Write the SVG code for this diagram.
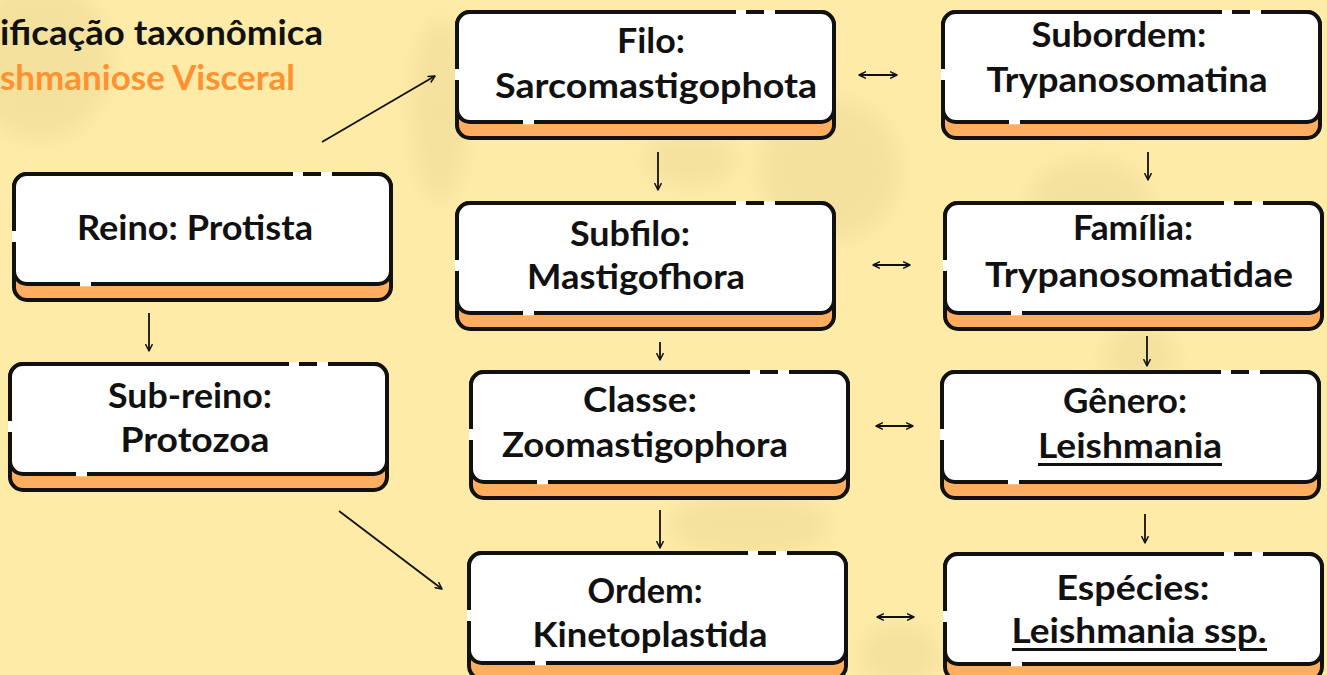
<svg xmlns="http://www.w3.org/2000/svg" xmlns:xlink="http://www.w3.org/1999/xlink" width="1327" height="675" viewBox="0 0 1327 675">
<style>
.t{font-family:Lato,"Open Sans","Liberation Sans",sans-serif;font-weight:700;font-size:35px;fill:#111;text-anchor:middle}
.ttl{font-family:Lato,"Open Sans","Liberation Sans",sans-serif;font-weight:700;font-size:34px}
.ln{stroke:#111;stroke-width:1.8;fill:none;marker-end:url(#ah)}
.dl{stroke:#111;stroke-width:1.8;fill:none;marker-end:url(#ah);marker-start:url(#ah)}
.ul{fill:#111}
.blob{fill:#F5E19E}
</style>
<defs>
<filter id="blur" x="-50%" y="-50%" width="200%" height="200%"><feGaussianBlur stdDeviation="10"/></filter>
<marker id="ah" viewBox="0 0 10 10" refX="9" refY="5" markerWidth="8" markerHeight="8" markerUnits="userSpaceOnUse" orient="auto-start-reverse">
<path d="M1,1 L9,5 L1,9" fill="none" stroke="#111" stroke-width="1.8" stroke-linecap="round" stroke-linejoin="round"/>
</marker>
<g id="box">
<rect x="2" y="2" width="377" height="126" rx="13" fill="#FFAD5E" stroke="#111" stroke-width="4"/>
<rect x="2" y="2" width="377" height="110" rx="13" fill="#fff" stroke="#111" stroke-width="4"/>
<rect x="281" y="0" width="10" height="4.5" fill="#fff"/>
<rect x="309" y="0" width="11" height="4.5" fill="#fff"/>
<rect x="0" y="59" width="4.5" height="11" fill="#fff"/>
<rect x="68" y="109.8" width="11" height="4.5" fill="#fff"/>
</g>
</defs>
<rect width="1327" height="675" fill="#FEEBA7"/>
<g id="background" filter="url(#blur)">
<ellipse class="blob" cx="40" cy="60" rx="70" ry="80"/>
<ellipse class="blob" cx="440" cy="110" rx="28" ry="90"/>
<ellipse class="blob" cx="690" cy="160" rx="45" ry="25"/>
<ellipse class="blob" cx="830" cy="170" rx="70" ry="70"/>
<ellipse class="blob" cx="1090" cy="200" rx="60" ry="40"/>
<ellipse class="blob" cx="1140" cy="355" rx="35" ry="30"/>
<ellipse class="blob" cx="750" cy="525" rx="80" ry="30"/>
<ellipse class="blob" cx="900" cy="655" rx="40" ry="30"/>
</g>
<g id="title">
<text class="ttl" x="0" y="45" fill="#111" textLength="323" lengthAdjust="spacingAndGlyphs">ificação taxonômica</text>
<text class="ttl" x="0" y="90" fill="#FF9130" textLength="295" lengthAdjust="spacingAndGlyphs">shmaniose Visceral</text>
</g>
<g id="connectors">
<line class="ln" x1="322" y1="142" x2="435" y2="76"/>
<line class="ln" x1="149" y1="313" x2="149" y2="351"/>
<line class="ln" x1="339" y1="511" x2="442" y2="589"/>
<line class="ln" x1="658" y1="152" x2="658" y2="190"/>
<line class="ln" x1="660" y1="342" x2="660" y2="360"/>
<line class="ln" x1="660" y1="510" x2="660" y2="548"/>
<line class="ln" x1="1148" y1="152" x2="1148" y2="180"/>
<line class="ln" x1="1147" y1="336" x2="1147" y2="366"/>
<line class="ln" x1="1145" y1="514" x2="1145" y2="543"/>
<line class="dl" x1="859" y1="75" x2="897" y2="75"/>
<line class="dl" x1="873" y1="265" x2="910" y2="265"/>
<line class="dl" x1="876" y1="426" x2="913" y2="426"/>
<line class="dl" x1="877" y1="617" x2="914" y2="617"/>
</g>
<g id="reino">
<use xlink:href="#box" x="12" y="172"/>
<text class="t" x="195" y="240" textLength="236" lengthAdjust="spacingAndGlyphs">Reino: Protista</text>
</g>
<g id="subreino">
<use xlink:href="#box" x="8" y="362"/>
<text class="t" x="190" y="408" textLength="164" lengthAdjust="spacingAndGlyphs">Sub-reino:</text>
<text class="t" x="195" y="452" textLength="149" lengthAdjust="spacingAndGlyphs">Protozoa</text>
</g>
<g id="filo">
<use xlink:href="#box" x="455" y="10"/>
<text class="t" x="651" y="53" textLength="68" lengthAdjust="spacingAndGlyphs">Filo:</text>
<text class="t" x="656" y="98" textLength="322" lengthAdjust="spacingAndGlyphs">Sarcomastigophota</text>
</g>
<g id="subordem">
<use xlink:href="#box" x="941" y="10"/>
<text class="t" x="1119" y="47" textLength="175" lengthAdjust="spacingAndGlyphs">Subordem:</text>
<text class="t" x="1127" y="92" textLength="281" lengthAdjust="spacingAndGlyphs">Trypanosomatina</text>
</g>
<g id="subfilo">
<use xlink:href="#box" x="455" y="201"/>
<text class="t" x="630" y="246" textLength="120" lengthAdjust="spacingAndGlyphs">Subfilo:</text>
<text class="t" x="636" y="289" textLength="218" lengthAdjust="spacingAndGlyphs">Mastigofhora</text>
</g>
<g id="familia">
<use xlink:href="#box" x="943" y="201"/>
<text class="t" x="1133" y="240" textLength="120" lengthAdjust="spacingAndGlyphs">Família:</text>
<text class="t" x="1139" y="287" textLength="308" lengthAdjust="spacingAndGlyphs">Trypanosomatidae</text>
</g>
<g id="classe">
<use xlink:href="#box" x="469" y="370"/>
<text class="t" x="640" y="412" textLength="114" lengthAdjust="spacingAndGlyphs">Classe:</text>
<text class="t" x="645" y="457" textLength="286" lengthAdjust="spacingAndGlyphs">Zoomastigophora</text>
</g>
<g id="genero">
<use xlink:href="#box" x="940" y="370"/>
<text class="t" x="1125" y="413" textLength="124" lengthAdjust="spacingAndGlyphs">Gênero:</text>
<text class="t" x="1130" y="458" textLength="184" lengthAdjust="spacingAndGlyphs">Leishmania</text>
<rect class="ul" x="1038" y="463" width="184" height="3"/>
</g>
<g id="ordem">
<use xlink:href="#box" x="467" y="551"/>
<text class="t" x="645" y="603" textLength="115" lengthAdjust="spacingAndGlyphs">Ordem:</text>
<text class="t" x="650" y="647" textLength="235" lengthAdjust="spacingAndGlyphs">Kinetoplastida</text>
</g>
<g id="especies">
<use xlink:href="#box" x="943" y="552"/>
<text class="t" x="1133" y="600" textLength="153" lengthAdjust="spacingAndGlyphs">Espécies:</text>
<text class="t" x="1139" y="643" textLength="255" lengthAdjust="spacingAndGlyphs">Leishmania ssp.</text>
<rect class="ul" x="1012" y="648" width="224" height="3"/>
<rect class="ul" x="1240" y="648" width="27" height="3"/>
</g>
</svg>
